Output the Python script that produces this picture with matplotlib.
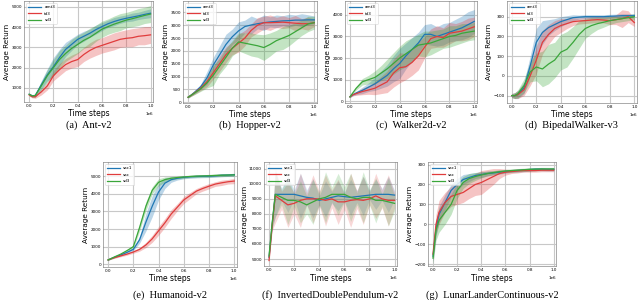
import numpy as np
import matplotlib
matplotlib.use('Agg')
import matplotlib.pyplot as plt

# time steps (in units of 1e6)
steps = [0, 0.025, 0.05, 0.1, 0.15, 0.2, 0.25, 0.3, 0.35, 0.4, 0.45, 0.5,
         0.55, 0.6, 0.65, 0.7, 0.75, 0.8, 0.85, 0.9, 0.95, 1.0]

top_labels = ['amt3', 'td3', 'sd3']
bottom_labels = ['sac1', 'sac', 'sd3']

# (a) Ant-v2
ant_blue = [680, 600, 620, 1150, 1650, 2050, 2500, 2900, 3150, 3400, 3550, 3700, 3880, 4030, 4170, 4280, 4370, 4440, 4500, 4560, 4630, 4690]
ant_red = [650, 560, 560, 800, 1100, 1600, 1900, 2150, 2300, 2400, 2650, 2850, 3000, 3100, 3200, 3300, 3400, 3450, 3480, 3550, 3580, 3620]
ant_green = [680, 600, 620, 1100, 1600, 2000, 2400, 2700, 2950, 3150, 3350, 3500, 3700, 3900, 4030, 4150, 4250, 4350, 4420, 4500, 4580, 4650]
ant_blue_sd = [60, 60, 80, 200, 300, 450, 400, 350, 300, 250, 250, 200, 220, 200, 180, 200, 180, 170, 200, 180, 200, 220]
ant_red_sd = [60, 60, 80, 150, 200, 250, 300, 300, 320, 350, 350, 380, 400, 380, 400, 420, 400, 420, 450, 420, 450, 420]
ant_green_sd = [60, 60, 80, 200, 300, 400, 450, 400, 450, 450, 400, 450, 400, 400, 380, 400, 420, 380, 400, 420, 400, 420]

# (b) Hopper-v2
hop_blue = [190, 280, 380, 600, 950, 1450, 1850, 2250, 2550, 2780, 2950, 3010, 3060, 3100, 3130, 3150, 3170, 3180, 3200, 3200, 3210, 3210]
hop_red = [190, 270, 360, 550, 800, 1150, 1500, 1850, 2100, 2300, 2500, 2800, 3000, 3100, 3100, 3110, 3120, 3100, 3080, 3060, 3060, 3100]
hop_green = [190, 270, 350, 520, 750, 1050, 1400, 1750, 2100, 2350, 2300, 2250, 2200, 2130, 2250, 2400, 2500, 2600, 2750, 2900, 3050, 3100]
hop_blue_sd = [30, 40, 60, 100, 250, 300, 350, 400, 300, 350, 250, 350, 200, 300, 200, 250, 200, 250, 200, 250, 200, 150]
hop_red_sd = [30, 40, 60, 100, 200, 250, 300, 300, 250, 350, 300, 250, 300, 250, 300, 200, 250, 200, 300, 200, 250, 150]
hop_green_sd = [30, 40, 60, 100, 200, 400, 300, 350, 300, 350, 400, 450, 450, 500, 450, 400, 450, 400, 350, 300, 300, 250]

# (c) Walker2d-v2
walk_blue = [200, 300, 380, 500, 650, 800, 1000, 1200, 1500, 1750, 2100, 2400, 2700, 3100, 3100, 3000, 3100, 3200, 3300, 3400, 3550, 3700]
walk_red = [200, 300, 350, 450, 520, 600, 750, 900, 1300, 1550, 1600, 1800, 2100, 2500, 2900, 3000, 2950, 3150, 3200, 3250, 3350, 3450]
walk_green = [200, 400, 600, 900, 1000, 1100, 1300, 1500, 1750, 2000, 2200, 2400, 2600, 2650, 2700, 2800, 2900, 3000, 3050, 3150, 3200, 3250]
walk_blue_sd = [30, 50, 80, 150, 200, 300, 400, 500, 600, 700, 600, 550, 500, 450, 500, 450, 500, 450, 500, 550, 600, 550]
walk_red_sd = [30, 50, 80, 150, 200, 300, 400, 500, 650, 700, 600, 600, 650, 500, 450, 500, 450, 500, 400, 450, 500, 450]
walk_green_sd = [30, 50, 80, 150, 200, 300, 350, 450, 500, 550, 600, 550, 500, 600, 550, 500, 450, 500, 450, 450, 400, 400]

# (d) BipedalWalker-v3
bip_blue = [-100, -100, -95, -60, 50, 170, 220, 245, 260, 275, 285, 295, 298, 300, 300, 300, 300, 302, 303, 305, 305, 305]
bip_red = [-100, -100, -95, -70, 0, 80, 170, 210, 240, 255, 265, 275, 278, 280, 283, 285, 283, 280, 285, 290, 300, 270]
bip_green = [-100, -100, -90, -50, 20, 45, 35, 60, 80, 120, 135, 170, 210, 240, 255, 265, 272, 280, 285, 290, 295, 300]
bip_blue_sd = [10, 15, 20, 30, 50, 70, 60, 40, 30, 25, 20, 15, 10, 10, 10, 10, 10, 10, 10, 10, 10, 10]
bip_red_sd = [10, 15, 20, 30, 50, 70, 60, 50, 40, 35, 25, 20, 15, 15, 15, 15, 15, 20, 25, 45, 30, 20]
bip_green_sd = [10, 15, 20, 35, 50, 70, 90, 100, 90, 90, 90, 80, 70, 50, 40, 30, 25, 20, 15, 15, 15, 15]

# (e) Humanoid-v2
hum_blue = [250, 330, 400, 530, 680, 850, 1400, 2400, 3300, 4100, 4600, 4800, 4880, 4930, 4960, 4980, 4990, 5000, 5020, 5050, 5060, 5080]
hum_red = [250, 320, 380, 480, 580, 700, 850, 1100, 1450, 1900, 2350, 2850, 3250, 3650, 3900, 4150, 4300, 4430, 4550, 4620, 4680, 4720]
hum_green = [250, 330, 420, 580, 780, 1000, 2100, 3300, 4200, 4650, 4800, 4880, 4920, 4950, 4980, 5000, 5010, 5020, 5040, 5050, 5060, 5070]
hum_blue_sd = [20, 30, 40, 50, 60, 80, 200, 500, 600, 450, 300, 150, 100, 80, 80, 80, 80, 80, 80, 80, 80, 80]
hum_red_sd = [20, 30, 40, 50, 60, 70, 100, 150, 200, 250, 250, 250, 200, 200, 180, 150, 150, 150, 130, 150, 130, 150]
hum_green_sd = [20, 30, 40, 50, 60, 100, 200, 250, 200, 200, 150, 100, 80, 80, 70, 80, 70, 80, 70, 80, 70, 80]

# (f) InvertedDoublePendulum-v2
idp_blue = [5100, 7300, 9300, 9300, 9300, 9300, 9200, 9100, 9050, 8900, 9000, 9100, 9200, 9150, 9100, 9150, 9200, 9250, 9300, 9300, 9300, 9250]
idp_red = [4900, 7200, 9200, 8900, 8600, 8700, 8900, 9000, 9000, 9000, 8900, 9000, 8800, 8800, 8900, 8950, 8900, 9000, 9200, 9000, 8900, 8900]
idp_green = [5200, 7400, 9300, 9100, 8900, 8900, 8800, 8600, 8800, 9000, 9100, 9300, 9300, 9300, 9100, 9000, 9100, 9100, 8900, 8900, 8800, 8700]
idp_blue_sd = [100, 300, 1500, 400, 1200, 300, 1500, 500, 1300, 300, 1200, 400, 1000, 300, 1200, 400, 1300, 300, 1000, 400, 1200, 300]
idp_red_sd = [100, 300, 1800, 600, 1500, 700, 1800, 400, 1600, 500, 1700, 600, 1500, 500, 1800, 600, 1600, 400, 1500, 600, 1700, 500]
idp_green_sd = [100, 300, 1500, 500, 1600, 400, 1400, 600, 1500, 400, 1700, 500, 1400, 500, 1600, 400, 1700, 500, 1500, 400, 1600, 500]

# (g) LunarLanderContinuous-v2
lun_blue = [-160, -20, 50, 110, 170, 200, 225, 235, 245, 250, 255, 258, 262, 265, 268, 270, 272, 275, 277, 277, 276, 276]
lun_red = [-150, 0, 60, 110, 140, 150, 160, 180, 200, 210, 225, 240, 255, 262, 265, 268, 270, 270, 270, 272, 272, 272]
lun_green = [-170, -30, 20, 60, 100, 170, 210, 230, 240, 248, 255, 260, 264, 268, 270, 272, 274, 276, 277, 278, 278, 278]
lun_blue_sd = [30, 40, 40, 40, 30, 30, 25, 20, 15, 15, 12, 10, 10, 8, 8, 8, 8, 8, 8, 8, 8, 8]
lun_red_sd = [30, 50, 60, 50, 50, 50, 50, 50, 55, 60, 50, 40, 25, 15, 10, 10, 8, 8, 8, 8, 8, 8]
lun_green_sd = [30, 50, 60, 60, 50, 40, 30, 25, 20, 15, 12, 10, 10, 8, 8, 8, 8, 8, 8, 8, 8, 8]

colors = ['#1f77b4', '#e03c3c', '#3aa63a']

panels = [
  # rect, caption, series, sds, labels, ylim, yticks, band alpha
  ([0.038, 0.66, 0.201, 0.337], '(a)  Ant-v2', (ant_blue, ant_red, ant_green),
   (ant_blue_sd, ant_red_sd, ant_green_sd), top_labels, (300, 5300), [1000, 2000, 3000, 4000, 5000], 0.3),
  ([0.286, 0.657, 0.209, 0.34], '(b)  Hopper-v2', (hop_blue, hop_red, hop_green),
   (hop_blue_sd, hop_red_sd, hop_green_sd), top_labels, (-30, 3950), [0, 500, 1000, 1500, 2000, 2500, 3000, 3500], 0.3),
  ([0.539, 0.657, 0.206, 0.34], '(c)  Walker2d-v2', (walk_blue, walk_red, walk_green),
   (walk_blue_sd, walk_red_sd, walk_green_sd), top_labels, (-80, 4650), [0, 1000, 2000, 3000, 4000], 0.3),
  ([0.792, 0.657, 0.203, 0.34], '(d)  BipedalWalker-v3', (bip_blue, bip_red, bip_green),
   (bip_blue_sd, bip_red_sd, bip_green_sd), top_labels, (-137, 380), [-100, 0, 100, 200, 300], 0.3),
  ([0.161, 0.11, 0.209, 0.35], '(e)  Humanoid-v2', (hum_blue, hum_red, hum_green),
   (hum_blue_sd, hum_red_sd, hum_green_sd), bottom_labels, (-150, 5800), [0, 1000, 2000, 3000, 4000, 5000], 0.3),
  ([0.4125, 0.113, 0.208, 0.347], '(f)  InvertedDoublePendulum-v2', (idp_blue, idp_red, idp_green),
   (idp_blue_sd, idp_red_sd, idp_green_sd), bottom_labels, (4530, 11450), [5000, 6000, 7000, 8000, 9000, 10000, 11000], 0.2),
  ([0.669, 0.113, 0.2, 0.347], '(g)  LunarLanderContinuous-v2', (lun_blue, lun_red, lun_green),
   (lun_blue_sd, lun_red_sd, lun_green_sd), bottom_labels, (-210, 313), [-200, -100, 0, 100, 200, 300], 0.3),
]

fig = plt.figure(figsize=(6.4, 3.0), dpi=100)
x = np.array(steps) * 1e6

for rect, caption, series, sds, labels, ylim, yticks, alpha in panels:
  ax = fig.add_axes(rect)
  for y, sd, c, lab in zip(series, sds, colors, labels):
    y = np.array(y, dtype=float)
    sd = np.array(sd, dtype=float)
    ax.fill_between(x, y - sd, y + sd, color=c, alpha=alpha, linewidth=0)
    ax.plot(x, y, color=c, linewidth=0.9, label=lab)
  ax.set_xlim(-0.04e6, 1.02e6)
  ax.set_ylim(*ylim)
  ax.set_yticks(yticks)
  ax.set_xticks([0, 0.2e6, 0.4e6, 0.6e6, 0.8e6, 1.0e6])
  ax.grid(True, color='#c8c8c8', linewidth=0.8)
  ax.set_axisbelow(True)
  ax.tick_params(length=0, labelsize=3, pad=1.5)
  ax.xaxis.get_offset_text().set_fontsize(3)
  for s in ax.spines.values():
    s.set_color('#888888')
    s.set_linewidth(0.5)
  ax.set_xlabel('Time steps', fontsize=5.5, labelpad=1)
  ax.set_ylabel('Average Return', fontsize=5.2, labelpad=1)
  leg = ax.legend(loc='upper left', fontsize=3, handlelength=3, frameon=True,
                  borderpad=0.5, labelspacing=0.6)
  leg.get_frame().set_linewidth(0.4)
  cx = rect[0] + rect[2] / 2
  cy = 0.583 if rect[1] > 0.5 else 0.017
  fig.text(cx, cy, caption, ha='center', va='center', fontsize=7.5, family='Liberation Serif')

plt.savefig('out.png', dpi=100)
